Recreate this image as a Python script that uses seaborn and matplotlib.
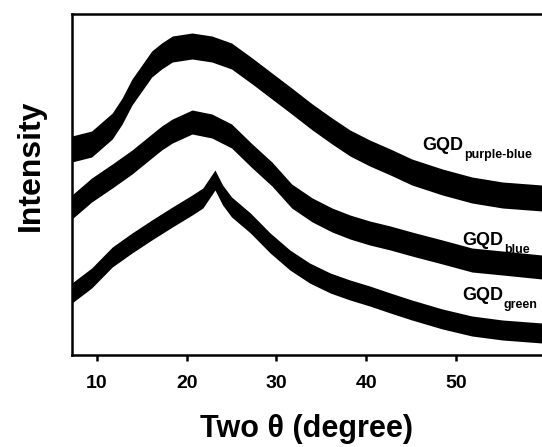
import matplotlib
matplotlib.use("Agg")
import matplotlib.pyplot as plt
import seaborn as sns
import pandas as pd

# --- data (intensity in arbitrary units) ---
two_theta = [7.2, 9.4, 11.7, 12.8, 13.9, 15.0, 16.1, 17.2, 18.4, 20.6, 22.8, 25.0,
             27.3, 29.5, 31.7, 34.0, 36.2, 38.2, 40.4, 42.7, 45.1, 48.5, 51.8, 55.2, 59.6]
purple_blue = [206, 211, 229, 244, 263, 277, 291, 299, 306, 309, 306, 299,
               284, 269, 254, 238, 224, 212, 202, 193, 183, 173, 165, 160, 157]
blue = [148, 165, 179, 186, 193, 201, 209, 217, 224, 233, 229, 219,
        199, 181, 159, 145, 135, 128, 122, 117, 111, 103, 95, 92, 88]

two_theta_green = [7.2, 9.4, 11.7, 13.9, 16.1, 18.4, 20.6, 21.8, 23.15, 24.0, 25.0, 27.1,
                   29.3, 31.5, 33.7, 36.0, 38.2, 40.4, 42.7, 45.1, 48.5, 51.8, 55.2, 59.6]
green = [62, 77, 98, 112, 125, 138, 150, 157, 175, 160, 148, 132,
         112, 95, 82, 72, 65, 59, 52, 45, 36, 29, 25, 22]

# noise amplitude (half width of the noisy band)
spread = {"purple-blue": 13, "blue": 12, "green": 10}

labels = ["purple-blue", "blue", "green"]
label_x = [46.3, 50.7, 50.7]
label_y = [205, 110, 55]

df = pd.concat([
    pd.DataFrame({"x": two_theta, "y": purple_blue, "sample": "purple-blue"}),
    pd.DataFrame({"x": two_theta, "y": blue, "sample": "blue"}),
    pd.DataFrame({"x": two_theta_green, "y": green, "sample": "green"}),
])

sns.set_style("ticks")
plt.rcParams["font.family"] = ["Liberation Sans", "DejaVu Sans"]
plt.rcParams["font.weight"] = "bold"
plt.rcParams["text.color"] = "black"
plt.rcParams["xtick.color"] = "black"
plt.rcParams["axes.labelcolor"] = "black"

fig = plt.figure(figsize=(5.42, 4.47), dpi=100)
ax = fig.add_axes([72 / 542, 92 / 447, 470 / 542, 341 / 447])

# noisy XRD traces drawn as solid black bands
for name in labels:
    d = df[df["sample"] == name]
    s = spread[name]
    ax.fill_between(d["x"], d["y"] - s, d["y"] + s, color="black", lw=0)
sns.lineplot(data=df, x="x", y="y", units="sample", estimator=None,
             color="black", lw=1.5, ax=ax)

ax.set_xlim(7.21, 59.61)
ax.set_ylim(0, 341)
ax.set_xticks([10, 20, 30, 40, 50])
ax.set_yticks([])
ax.tick_params(axis="x", direction="out", length=4.5, width=1.8, pad=10,
               labelsize=14, colors="black")
for lab in ax.get_xticklabels():
    lab.set_fontweight("bold")

for side in ["left", "top", "bottom"]:
    ax.spines[side].set_linewidth(1.8)
    ax.spines[side].set_color("black")
ax.spines["right"].set_visible(False)

ax.set_xlabel("Two \u03b8 (degree)", fontsize=22, fontweight="bold", color="black")
ax.xaxis.set_label_coords(0.498, -0.172)
ax.set_ylabel("")
ax.text(-0.087, 0.557, "Intensity", transform=ax.transAxes, rotation=90,
        ha="center", va="center", fontsize=23, fontweight="bold", color="black")

for name, lx, ly in zip(labels, label_x, label_y):
    t = ax.text(lx, ly, "GQD", fontsize=13, fontweight="bold", va="baseline",
                color="black")
    ax.annotate(name, xy=(1.0, 0.0), xycoords=t, xytext=(0.5, -3),
                textcoords="offset points", fontsize=9, fontweight="bold",
                va="baseline", ha="left", color="black")

fig.savefig("out.png", dpi=100)
